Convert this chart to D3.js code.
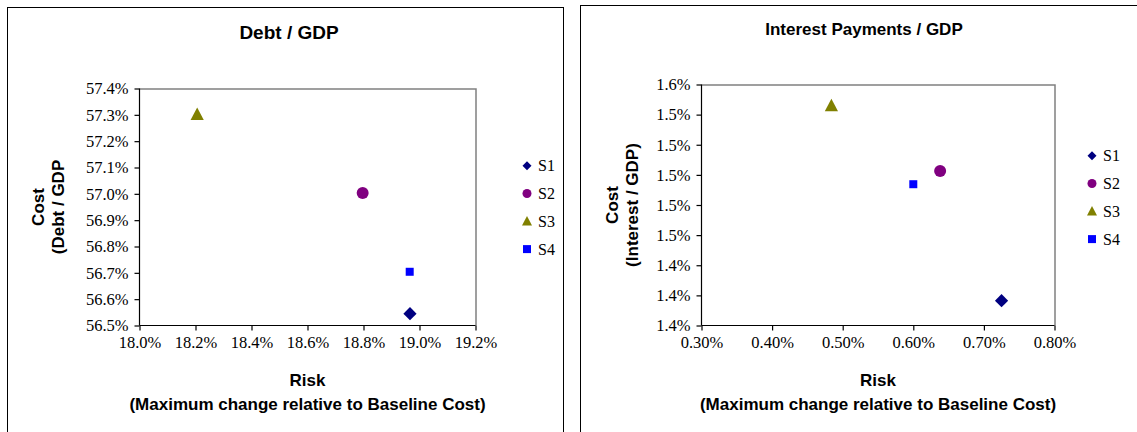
<!DOCTYPE html>
<html>
<head>
<meta charset="utf-8">
<script src="https://cdn.jsdelivr.net/npm/d3@7"></script>
<style>
  body { margin: 0; background: #fff; }
</style>
</head>
<body>
<svg id="chart" width="1137" height="432"></svg>
<script>

// series names and colours (Excel default marker colours)
var series = ["S1", "S2", "S3", "S4"];
var colors = ["#000080", "#800080", "#808000", "#0000ff"];

// Debt / GDP panel (values in %)
var debtRisk = [18.966, 18.797, 18.206, 18.965];
var debtCost = [56.545, 57.003, 57.302, 56.704];
var debtXTicks = [18.0, 18.2, 18.4, 18.6, 18.8, 19.0, 19.2];
var debtYTicks = [56.5, 56.6, 56.7, 56.8, 56.9, 57.0, 57.1, 57.2, 57.3, 57.4];

// Interest Payments / GDP panel (values in %)
var intRisk = [0.725, 0.638, 0.484, 0.600];
var intCost = [1.4165, 1.5026, 1.546, 1.4938];
var intXTicks = [0.30, 0.40, 0.50, 0.60, 0.70, 0.80];
var intYTicks = [1.40, 1.42, 1.44, 1.46, 1.48, 1.50, 1.52, 1.54, 1.56];
var intYLabels = ["1.4%", "1.4%", "1.4%", "1.5%", "1.5%", "1.5%", "1.5%", "1.5%", "1.6%"];

var serif = "Liberation Serif";
var sans = "Liberation Sans";
var svg = d3.select("#chart");

// marker shapes, "size" is used as a radius here
var shapes = [
  { draw: function(c, r) { c.moveTo(0, -r); c.lineTo(r, 0); c.lineTo(0, r); c.lineTo(-r, 0); c.closePath(); } },
  { draw: function(c, r) { c.arc(0, 0, r, 0, 2 * Math.PI); } },
  { draw: function(c, r) { c.moveTo(0, -r * 1.05); c.lineTo(r, r * 0.85); c.lineTo(-r, r * 0.85); c.closePath(); } },
  { draw: function(c, r) { c.rect(-r, -r, 2 * r, 2 * r); } }
];
var plotSizes = [6.6, 6, 6.6, 4];
var legSizes = [4.5, 4.5, 5, 4];

function boldText(g, size) {
  return g.append("text").attr("font-family", sans).attr("font-weight", "bold")
    .attr("font-size", size).attr("fill", "#000").attr("text-anchor", "middle");
}

function drawPanel(o) {
  var g = svg.append("g");

  // outer chart border
  g.append("rect")
    .attr("x", o.box[0] + 0.5).attr("y", o.box[1] + 0.5)
    .attr("width", o.box[2]).attr("height", o.box[3])
    .attr("fill", "none").attr("stroke", "#000");

  var x = d3.scaleLinear().domain(o.xDomain).range([o.left, o.right]);
  var y = d3.scaleLinear().domain(o.yDomain).range([o.bottom, o.top]);

  // grey top / right frame of plot area
  g.append("path")
    .attr("d", "M" + o.left + "," + (o.top + 0.5) + "H" + (o.right + 0.5) + "V" + o.bottom)
    .attr("fill", "none").attr("stroke", "#808080").attr("stroke-width", 1.5);

  var xAxis = d3.axisBottom(x).tickValues(o.xTicks).tickSize(5).tickPadding(6)
    .tickFormat(o.xFormat);
  var yAxis = d3.axisLeft(y).tickValues(o.yTicks).tickSize(5).tickPadding(6)
    .tickFormat(function(d, i) { return o.yLabels[i]; });

  g.append("g").attr("transform", "translate(0," + o.bottom + ")").call(xAxis)
    .call(function(s) { s.select(".domain").attr("d", "M" + o.left + ",0H" + o.right); });
  g.append("g").attr("transform", "translate(" + o.left + ",0)").call(yAxis)
    .call(function(s) { s.select(".domain").attr("d", "M0," + o.top + "V" + o.bottom); });
  g.selectAll(".domain, .tick line").attr("stroke", "#000").attr("stroke-width", 1.2);
  g.selectAll(".tick text").attr("fill", "#000")
    .attr("font-family", serif).attr("font-size", 16.5);

  // points
  var pts = series.map(function(s, i) { return { i: i, x: o.xs[i], y: o.ys[i] }; });
  g.selectAll(".pt").data(pts).enter().append("path")
    .attr("class", "pt")
    .attr("transform", function(d) { return "translate(" + x(d.x) + "," + y(d.y) + ")"; })
    .attr("d", function(d) { return d3.symbol().type(shapes[d.i]).size(plotSizes[d.i])(); })
    .attr("fill", function(d) { return colors[d.i]; });

  // legend
  var leg = g.selectAll(".lg").data(series).enter().append("g")
    .attr("transform", function(d, i) { return "translate(" + o.legX + "," + (o.legY + i * 27.8) + ")"; });
  leg.append("path")
    .attr("d", function(d, i) { return d3.symbol().type(shapes[i]).size(legSizes[i])(); })
    .attr("fill", function(d, i) { return colors[i]; });
  leg.append("text").attr("x", 11).attr("dy", "0.35em")
    .attr("font-family", serif).attr("font-size", 16).attr("fill", "#000")
    .text(function(d) { return d; });

  // titles
  var cx = (o.left + o.right) / 2, cy = (o.top + o.bottom) / 2;
  boldText(g, o.titleSize).attr("x", o.titleX).attr("y", o.titleY).text(o.title);
  boldText(g, 17).attr("x", cx).attr("y", 386).text("Risk");
  boldText(g, 17).attr("x", cx).attr("y", 410).text("(Maximum change relative to Baseline Cost)");
  o.yTitle.forEach(function(t, i) {
    boldText(g, 17)
      .attr("transform", "translate(" + (o.yTitleX + i * 20) + "," + cy + ") rotate(-90)")
      .attr("dy", "0.35em").text(t);
  });
}

drawPanel({
  box: [7, 7, 556, 440],
  left: 139.5, right: 475.5, top: 88.5, bottom: 325.5,
  xDomain: [18.0, 19.2], yDomain: [56.5, 57.4],
  xTicks: debtXTicks, yTicks: debtYTicks,
  xFormat: function(d) { return d.toFixed(1) + "%"; },
  yLabels: debtYTicks.map(function(d) { return d.toFixed(1) + "%"; }),
  xs: debtRisk, ys: debtCost,
  legX: 527, legY: 165.7,
  title: "Debt / GDP", titleX: 289, titleY: 39, titleSize: 19,
  yTitle: ["Cost", "(Debt / GDP"], yTitleX: 38
});

drawPanel({
  box: [580, 5, 600, 440],
  left: 701.5, right: 1054.5, top: 84.5, bottom: 325.5,
  xDomain: [0.30, 0.80], yDomain: [1.40, 1.56],
  xTicks: intXTicks, yTicks: intYTicks,
  xFormat: function(d) { return d.toFixed(2) + "%"; },
  yLabels: intYLabels,
  xs: intRisk, ys: intCost,
  legX: 1092, legY: 155.7,
  title: "Interest Payments / GDP", titleX: 864, titleY: 35, titleSize: 17,
  yTitle: ["Cost", "(Interest / GDP)"], yTitleX: 612
});

</script>
</body>
</html>
